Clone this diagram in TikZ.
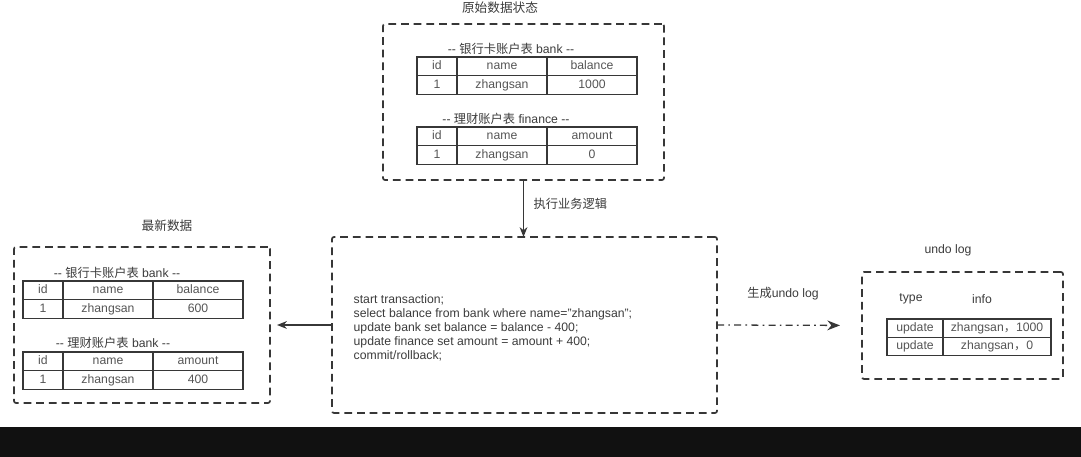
\documentclass[tikz,border=0pt]{standalone}
\usepackage{fontspec}
\setmainfont{Liberation Sans}
\newfontfamily\cjk{Noto Sans CJK SC}
\usetikzlibrary{positioning,arrows.meta}
\definecolor{boxline}{RGB}{55,55,55}
\definecolor{labeltext}{RGB}{60,60,60}
\definecolor{celltext}{RGB}{85,85,85}
\definecolor{barblack}{RGB}{17,17,17}

\tikzset{
  groupbox/.style={draw=boxline, line width=1.2pt, dash pattern=on 5.5pt off 3.5pt,
                   rounded corners=1.5pt, inner sep=0pt, outer sep=0pt},
  cell/.style={draw=boxline, line width=0.9pt, minimum height=0.47cm, inner sep=0pt,
               outer sep=0pt, text=celltext, text height=6.3pt, text depth=1.9pt},
  plain/.style={text=labeltext, inner sep=1pt},
}

% table with columns id / name / #4, one row of data
\newcommand{\acctable}[5]{%
  \node[cell, minimum width=1cm, anchor=north west] (#1-id) at (#2,#3) {id};
  \node[cell, minimum width=2.25cm, right=0pt of #1-id] (#1-name) {name};
  \node[cell, minimum width=2.25cm, right=0pt of #1-name] (#1-col) {#4};
  \node[cell, minimum width=1cm, below=0pt of #1-id] (#1-v1) {1};
  \node[cell, minimum width=2.25cm, right=0pt of #1-v1] (#1-v2) {zhangsan};
  \node[cell, minimum width=2.25cm, right=0pt of #1-v2] (#1-v3) {#5};
}

\begin{document}
\begin{tikzpicture}[>={Stealth[length=7pt, width=5.5pt]}, x=0.025cm, y=-0.025cm,
                    font=\fontsize{8.7}{10}\selectfont]

  % --- Canvas ---
  \useasboundingbox (0,0) rectangle (1081,457);
  \fill[white] (0,0) rectangle (1081,427);
  \fill[barblack] (0,427) rectangle (1081,457);

  % --- Original state (top) ---
  \node[groupbox, minimum width=7.025cm, minimum height=3.9cm] (orig) at (523.5,102) {};
  \node[plain] (origtitle) at (500,8) {\cjk\fontsize{9}{10}\selectfont 原始数据状态};
  \node[plain] (origcap1) at (511,49) {-{}- {\cjk 银行卡账户表} bank -{}-};
  \acctable{ob}{417}{57}{balance}{1000}
  \node[plain] (origcap2) at (506,119) {-{}- {\cjk 理财账户表} finance -{}-};
  \acctable{of}{417}{127}{amount}{0}

  % --- Transaction (middle) ---
  \node[groupbox, minimum width=9.625cm, minimum height=4.4cm] (txn) at (524.5,325) {};
  \node[plain, anchor=west, align=left] (sql) at (352,328) {%
    start transaction;\\
    select balance from bank where name="zhangsan";\\
    update bank set balance = balance -{} 400;\\
    update finance set amount = amount + 400;\\
    commit/rollback;};

  % --- Latest data (left) ---
  \node[groupbox, minimum width=6.4cm, minimum height=3.9cm] (latest) at (142,325) {};
  \node[plain] (latesttitle) at (167,226) {\cjk\fontsize{9}{10}\selectfont 最新数据};
  \node[plain] (latestcap1) at (117,273) {-{}- {\cjk 银行卡账户表} bank -{}-};
  \acctable{lb}{23}{281}{balance}{600}
  \node[plain] (latestcap2) at (113,343) {-{}- {\cjk 理财账户表} bank -{}-};
  \acctable{lf}{23}{352}{amount}{400}

  % --- Undo log (right) ---
  \node[groupbox, minimum width=5.025cm, minimum height=2.675cm] (undo) at (962.5,325.5) {};
  \node[plain] (undotitle) at (948,250) {undo log};
  \node[plain] (undotype) at (911,299) {type};
  \node[plain] (undoinfo) at (982,299) {info};
  \node[cell, minimum width=1.4cm, minimum height=0.46cm, anchor=north west] (u1a) at (887,319) {update};
  \node[cell, minimum width=2.7cm, minimum height=0.46cm, right=0pt of u1a] (u1b) {zhangsan{\cjk ，}1000};
  \node[cell, minimum width=1.4cm, minimum height=0.46cm, below=0pt of u1a] (u2a) {update};
  \node[cell, minimum width=2.7cm, minimum height=0.46cm, right=0pt of u2a] (u2b) {zhangsan{\cjk ，}0};

  % --- Connectors ---
  \draw[->, boxline, line width=0.9pt] (orig.south) -- (orig.south |- txn.north);
  \node[plain, anchor=west] (runlogic) at (532,204) {\cjk 执行业务逻辑};

  \draw[->, boxline, line width=0.9pt, shorten >=7*0.025cm] (txn.west) -- (latest.east);

  \draw[-{Stealth[length=9pt, width=7pt]}, boxline, line width=0.9pt,
        dash pattern=on 5pt off 3pt on 1.2pt off 3pt, shorten >=22*0.025cm] (txn.east) -- (undo.west);
  \node[plain] (genundo) at (783,294) {{\cjk 生成}undo log};

\end{tikzpicture}
\end{document}
